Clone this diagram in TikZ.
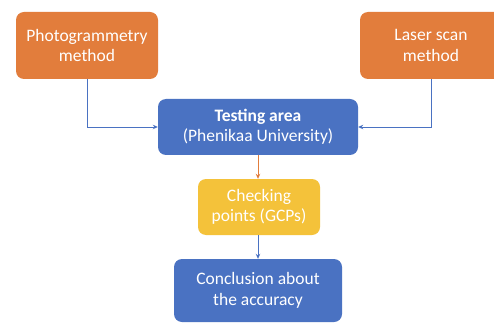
\documentclass[tikz,border=0pt]{standalone}
\usepackage{fontspec}
\setmainfont{Carlito}
\usepackage{tikz}
\usetikzlibrary{calc,positioning,arrows.meta}
\definecolor{laranja}{HTML}{E27D3C}
\definecolor{azul}{HTML}{4A72C2}
\definecolor{amarelo}{HTML}{F4C23A}
\definecolor{fundo}{HTML}{FFFFFF}
\tikzset{
  caixa/.style={rounded corners=8pt,text=white,align=center,inner sep=0pt,
    font=\fontsize{17.5}{20.5}\selectfont},
  seta/.style={line width=0.8pt,-{Stealth[length=5pt,width=4.5pt]}}
}

\begin{document}
\begin{tikzpicture}[x=1pt,y=1pt]
      \clip (0,0) rectangle (494,324);
      \fill[fundo] (0,0) rectangle (494,324);
      % caixas de cima
      \node[caixa,fill=laranja,minimum width=142pt,minimum height=67pt] (foto) at (87,278.5) {Photogrammetry\\method};
      \node[caixa,fill=laranja,minimum width=142pt,minimum height=67pt] (laser) at (431,278.5) {Laser scan\\method};
      % meio
      \node[caixa,fill=azul,minimum width=200pt,minimum height=56pt] (area) at (258,197) {\textbf{Testing area}\\(Phenikaa University)};
      \node[caixa,fill=amarelo,minimum width=122pt,minimum height=56pt] (pontos) at (259,117) {Checking\\points (GCPs)};
      \node[caixa,fill=azul,minimum width=168pt,minimum height=63pt] (conclusao) at (258,33.5) {Conclusion about\\the accuracy};
      % setas
      \draw[seta,azul] (foto.south) |- (area.west);
      \draw[seta,azul] (laser.south) |- (area.east);
      \draw[seta,laranja] (area.south) -- (area.south |- pontos.north);
      \draw[seta,azul] (area.south |- pontos.south) -- (area.south |- conclusao.north);
    \end{tikzpicture}
\end{document}
